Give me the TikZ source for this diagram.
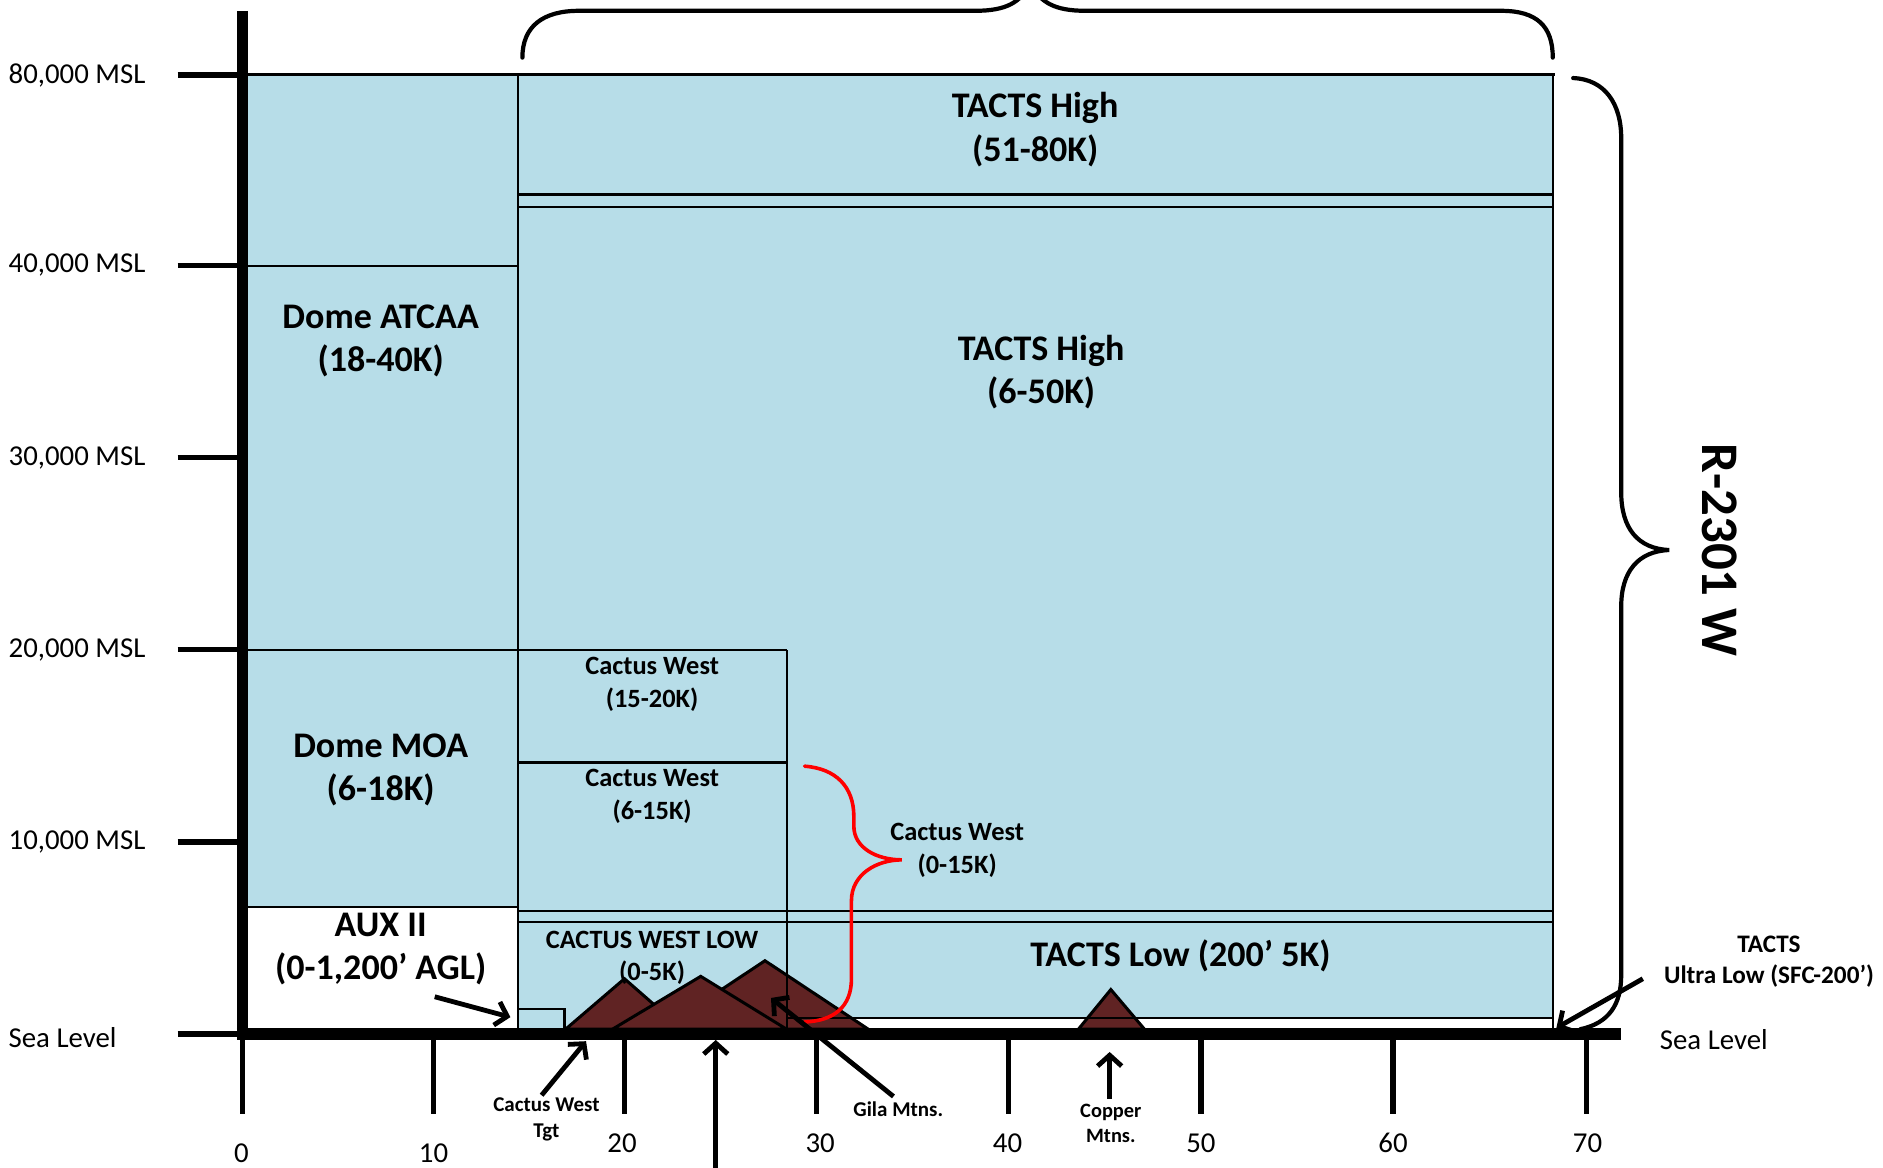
\documentclass[tikz,border=0pt]{standalone}
\usepackage{fontspec}
\setmainfont{Carlito}
\usetikzlibrary{arrows.meta}
\definecolor{skyb}{RGB}{183,221,232}
\definecolor{mtn}{RGB}{96,35,35}
\definecolor{bracered}{RGB}{255,0,0}
\begin{document}
\begin{tikzpicture}[x=1pt,y=-1pt,
  zone/.style={draw=black,line width=1.8pt},
  big/.style={font=\bfseries\fontsize{30}{36}\selectfont,align=center,inner sep=0pt},
  mid/.style={font=\bfseries\fontsize{22}{27}\selectfont,align=center,inner sep=0pt},
  small/.style={font=\bfseries\fontsize{17.5}{22}\selectfont,align=center,inner sep=0pt},
  axlbl/.style={font=\fontsize{24}{28}\selectfont,inner sep=0pt},
  ptr/.style={line width=4pt,-{Straight Barb[length=9pt,width=20pt]}},
  brc/.style={line width=3.5pt,line cap=round},
  mount/.style={fill=mtn,draw=black,line width=2.5pt,line join=miter},
  axisline/.style={line width=9.5pt},
  tickline/.style={line width=4.5pt}]
\useasboundingbox (0,0) rectangle (1568,972);
\clip (0,0) rectangle (1568,972);

% fills
\fill[skyb] (206,62) rectangle (1293,848);
\fill[skyb] (431,848) rectangle (655,858);
\fill[white] (206,755) rectangle (431,858);

% mountains
\draw[mount] (471,857) -- (520,815) -- (568,857) -- cycle;
\draw[mount] (551,857) -- (637,800) -- (723,857) -- cycle;
\draw[mount] (510,857) -- (583.5,813) -- (655,857) -- cycle;
\draw[mount] (898,857) -- (925,824) -- (953,857) -- cycle;

% zone borders
\draw[zone] (206,62) -- (1295,62);
\draw[zone] (1293,62) -- (1293,858);
\draw[zone] (431.5,62) -- (431.5,858);
\draw[zone] (206,221.5) -- (431.5,221.5);
\draw[zone] (206,541.5) -- (655,541.5);
\draw[zone] (655,541.5) -- (655,858);
\draw[zone] (431.5,635) -- (655,635);
\draw[zone] (431.5,162) -- (1293,162);
\draw[zone] (431.5,172.5) -- (1293,172.5);
\draw[zone] (206,755) -- (431.5,755);
\draw[zone] (431.5,758.6) -- (1293,758.6);
\draw[zone] (431.5,768) -- (1293,768);
\draw[zone] (655,848) -- (1293,848);
\draw[zone,fill=skyb] (431.5,858) rectangle (470,840);

% red brace
\draw[bracered,line width=3pt,line cap=round]
  (670,638) .. controls (696,640) and (711,655) .. (711,680) -- (711,688)
  .. controls (711,706) and (730,716) .. (751,716)
  .. controls (730,716) and (709,728) .. (709,750) -- (709,815)
  .. controls (709,838) and (695,850) .. (670,851);

% axes
\draw[axisline] (202,9) -- (202,865.75);
\draw[axisline] (197.25,861) -- (1350,861);
\foreach \yy in {62.5,221,381,541,701,861} \draw[tickline] (148,\yy) -- (202,\yy);
\foreach \xx in {202,361,520,680,840,1000,1160,1321} \draw[tickline] (\xx,861) -- (\xx,928);

% axis labels
\node[axlbl,anchor=west] (l80) at (7,63) {80,000 MSL};
\node[axlbl,anchor=west] (l40) at (7,221) {40,000 MSL};
\node[axlbl,anchor=west] (l30) at (7,381) {30,000 MSL};
\node[axlbl,anchor=west] (l20) at (7,541) {20,000 MSL};
\node[axlbl,anchor=west] (l10) at (7,701) {10,000 MSL};
\node[axlbl,anchor=west] (lsea) at (7,864) {Sea Level};
\node[axlbl,anchor=west] (rsea) at (1382,866) {Sea Level};
\node[axlbl] (x0) at (201,960) {0};
\node[axlbl] (x10) at (361,960) {10};
\node[axlbl] (x20) at (518,952) {20};
\node[axlbl] (x30) at (683,952) {30};
\node[axlbl] (x40) at (839,952) {40};
\node[axlbl] (x50) at (1000,952) {50};
\node[axlbl] (x60) at (1160,952) {60};
\node[axlbl] (x70) at (1322,952) {70};

% zone labels
\node[big] (th1) at (862,108) {TACTS High\\(51-80K)};
\node[big] (th2) at (867,310) {TACTS High\\(6-50K)};
\node[big] (datc) at (317,284) {Dome ATCAA\\(18-40K)};
\node[big] (dmoa) at (317,641) {Dome MOA\\(6-18K)};
\node[big] (aux) at (317,790) {AUX II\\(0-1,200’ AGL)};
\node[big] (tlow) at (983,796) {TACTS Low (200’ 5K)};
\node[mid] (cw1) at (543,570) {Cactus West\\(15-20K)};
\node[mid] (cw2) at (543,663) {Cactus West\\(6-15K)};
\node[mid] (cw3) at (797,708) {Cactus West\\(0-15K)};
\node[mid] (cwl) at (543,797.5) {CACTUS WEST LOW\\(0-5K)};
\node[font=\bfseries\fontsize{21}{26}\selectfont,align=center,inner sep=0pt] (tul) at (1473,801) {TACTS\\Ultra Low (SFC-200’)};
\node[small] (cwt) at (455,932) {Cactus West\\Tgt};
\node[small] (gila) at (748,924) {Gila Mtns.};
\node[font=\bfseries\fontsize{17}{21}\selectfont,align=center,inner sep=0pt] (copper) at (925,935.5) {Copper\\Mtns.};
\node[font=\bfseries\fontsize{44}{50}\selectfont,rotate=-90,inner sep=0pt] (r2301) at (1432,458) {R-2301 W};

% arrows
\coordinate (auxT) at (362,830);
\coordinate (auxH) at (425,847);
\coordinate (tgtT) at (451,912);
\coordinate (tgtH) at (488,867);
\coordinate (midT) at (596,990);
\coordinate (midH) at (596,866);
\coordinate (gilaT) at (744,913);
\coordinate (gilaH) at (642,831);
\coordinate (copT) at (924,915);
\coordinate (copH) at (924,876);
\coordinate (ulT) at (1368,815);
\coordinate (ulH) at (1296,856);
\draw[ptr] (auxT) -- (auxH);
\draw[ptr] (tgtT) -- (tgtH);
\draw[ptr] (midT) -- (midH);
\draw[ptr] (gilaT) -- (gilaH);
\draw[ptr] (copT) -- (copH);
\draw[ptr] (ulT) -- (ulH);

% black braces
\draw[brc] (435,48) .. controls (435,22) and (452,9) .. (482,9) -- (812,9)
  .. controls (838,9) and (850,2) .. (858,-14)
  .. controls (866,2) and (878,9) .. (904,9) -- (1250,9)
  .. controls (1280,9) and (1293,22) .. (1293,48);
\draw[brc] (1310,65) .. controls (1336,66) and (1350,86) .. (1350,115) -- (1350,410)
  .. controls (1350,440) and (1364,457) .. (1390,458)
  .. controls (1364,459) and (1350,476) .. (1350,505) -- (1350,812)
  .. controls (1350,836) and (1340,852) .. (1316,857);
\end{tikzpicture}
\end{document}
